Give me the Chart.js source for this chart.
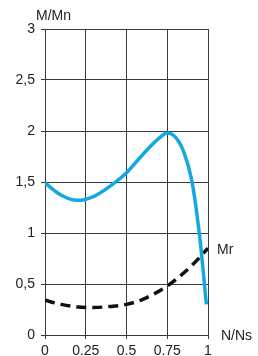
<!DOCTYPE html>
<html>
<head>
<meta charset="utf-8">
<script src="https://cdn.jsdelivr.net/npm/chart.js@4"></script>
<style>
  html, body { margin: 0; padding: 0; background: #fff; }
  canvas#chart { display: block; }
</style>
</head>
<body>
<canvas id="chart" width="258" height="356"></canvas>
<script>
/*
 * Torque curves: motor torque (M/Mn) and load torque (Mr) vs speed (N/Ns)
**/
const speeds = [0, 0.1, 0.2, 0.3, 0.4, 0.5, 0.6, 0.7, 0.75, 0.8, 0.85, 0.9, 0.95, 0.99];
const motorTorque = [1.49, 1.37, 1.32, 1.36, 1.46, 1.59, 1.77, 1.93, 1.98, 1.94, 1.80, 1.52, 0.95, 0.30];

const loadSpeeds = [0, 0.1, 0.2, 0.3, 0.4, 0.5, 0.6, 0.7, 0.75, 0.8, 0.9, 1];
const loadTorque = [0.34, 0.30, 0.275, 0.27, 0.28, 0.30, 0.35, 0.43, 0.48, 0.54, 0.68, 0.85];

const xTicks = [0, 0.25, 0.5, 0.75, 1];
const yTicks = [0, 0.5, 1, 1.5, 2, 2.5, 3];

const ChartConfig = {
  selector: 'chart',
  font: 'Liberation Sans, Arial, sans-serif',
  textColor: '#222',
  gridColor: '#3a3a3a',
  blue: '#14a8e2',
  black: '#111'
}

// plot box: left 45, right 208, top 29, bottom 335
const toPoints = (xs, ys) => xs.map((x, i) => ({ x: x, y: ys[i] }));

// labels around the plot (axis names and curve name)
const labelsPlugin = {
  id: 'labels',
  afterDraw(chart) {
    const ctx = chart.ctx;
    const x = chart.scales.x;
    const y = chart.scales.y;
    ctx.save();
    ctx.font = '14px ' + ChartConfig.font;
    ctx.fillStyle = ChartConfig.textColor;
    ctx.textBaseline = 'alphabetic';
    ctx.textAlign = 'left';
    ctx.fillText('M/Mn', x.left - 9, y.top - 9);
    ctx.fillText('N/Ns', x.right + 13, y.bottom + 5);
    ctx.fillText('Mr', x.right + 9, y.getPixelForValue(loadTorque[loadTorque.length - 1]) + 6);
    ctx.restore();
  }
}

const chart = new Chart(document.getElementById(ChartConfig.selector), {
  type: 'line',
  data: {
    datasets: [
      {
        label: 'M/Mn',
        data: toPoints(speeds, motorTorque),
        borderColor: ChartConfig.blue,
        borderWidth: 3.5,
        pointRadius: 0,
        fill: false,
        cubicInterpolationMode: 'monotone'
      },
      {
        label: 'Mr',
        data: toPoints(loadSpeeds, loadTorque),
        borderColor: ChartConfig.black,
        borderWidth: 3.5,
        borderDash: [10, 6],
        pointRadius: 0,
        fill: false,
        cubicInterpolationMode: 'monotone'
      }
    ]
  },
  options: {
    responsive: false,
    animation: false,
    layout: {
      padding: { top: 29, right: 50, bottom: 0, left: 0 }
    },
    plugins: {
      legend: { display: false },
      tooltip: { enabled: false }
    },
    scales: {
      x: {
        type: 'linear',
        min: 0,
        max: 1,
        afterFit: (scale) => { scale.height = 21; },
        afterBuildTicks: (scale) => { scale.ticks = xTicks.map((v) => ({ value: v })); },
        ticks: {
          color: ChartConfig.textColor,
          font: { family: ChartConfig.font, size: 14 },
          padding: 4,
          maxRotation: 0,
          callback: (value) => String(value)
        },
        grid: { color: ChartConfig.gridColor, lineWidth: 1, tickLength: 4 },
        border: { color: ChartConfig.gridColor, width: 1 }
      },
      y: {
        type: 'linear',
        min: 0,
        max: 3,
        afterFit: (scale) => { scale.width = 45; },
        afterBuildTicks: (scale) => { scale.ticks = yTicks.map((v) => ({ value: v })); },
        ticks: {
          color: ChartConfig.textColor,
          font: { family: ChartConfig.font, size: 14 },
          padding: 6,
          callback: (value) => String(value).replace('.', ',')
        },
        grid: { color: ChartConfig.gridColor, lineWidth: 1, tickLength: 4 },
        border: { color: ChartConfig.gridColor, width: 1 }
      }
    }
  },
  plugins: [labelsPlugin]
});
</script>
</body>
</html>
